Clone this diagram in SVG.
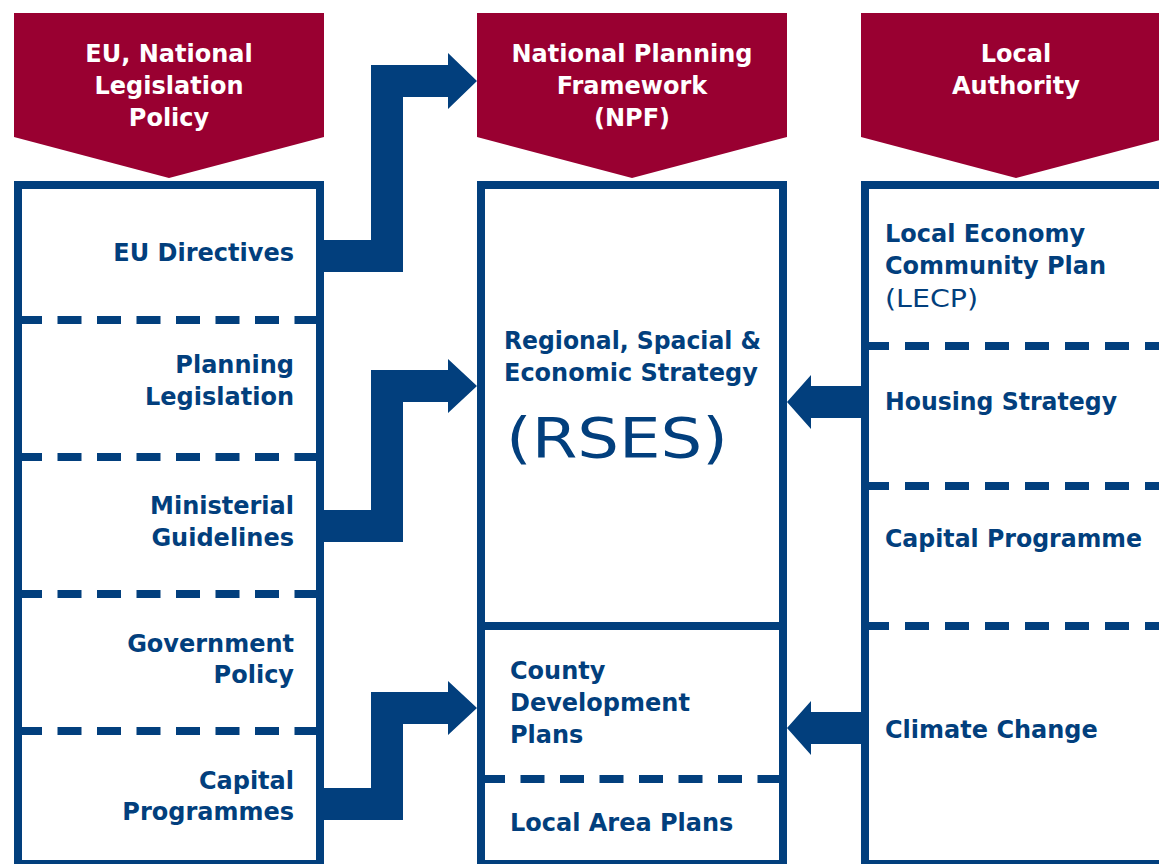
<svg xmlns="http://www.w3.org/2000/svg" width="1159" height="864" viewBox="0 0 1159 864">
<style>
.hdr{fill:#990031}
.box{fill:#ffffff;stroke:#023f7d;stroke-width:8}
.sep{stroke:#023f7d;stroke-width:8;fill:none}
.dash{stroke:#023f7d;stroke-width:8;fill:none;stroke-dasharray:24 15.5}
.arr{fill:#023f7d}
.ht{font-family:"DejaVu Sans",sans-serif;font-weight:700;font-size:24px;fill:#ffffff;text-anchor:middle}
.bt{font-family:"DejaVu Sans",sans-serif;font-weight:700;font-size:24px;fill:#023f7d}
.rt{font-family:"DejaVu Sans",sans-serif;font-weight:400;fill:#023f7d}
.r{text-anchor:end}
</style>
<rect width="1159" height="864" fill="#ffffff"/>
<g id="col-eu">
<polygon class="hdr" points="14,13 324,13 324,137 169,178 14,137"/>
<text class="ht" x="169" y="62">EU, National</text>
<text class="ht" x="169" y="94">Legislation</text>
<text class="ht" x="169" y="126">Policy</text>
<rect class="box" x="18" y="185" width="302" height="679"/>
<line class="dash" x1="18" y1="320" x2="320" y2="320"/>
<line class="dash" x1="18" y1="457" x2="320" y2="457"/>
<line class="dash" x1="18" y1="594" x2="320" y2="594"/>
<line class="dash" x1="18" y1="731" x2="320" y2="731"/>
</g>
<g id="eu-directives"><text class="bt r" x="294" y="261">EU Directives</text></g>
<g id="planning-legislation"><text class="bt r" x="294" y="373">Planning</text><text class="bt r" x="294" y="405">Legislation</text></g>
<g id="ministerial-guidelines"><text class="bt r" x="294" y="514">Ministerial</text><text class="bt r" x="294" y="546">Guidelines</text></g>
<g id="government-policy"><text class="bt r" x="294" y="652">Government</text><text class="bt r" x="294" y="683">Policy</text></g>
<g id="capital-programmes"><text class="bt r" x="294" y="789">Capital</text><text class="bt r" x="294" y="820">Programmes</text></g>

<g id="col-npf">
<polygon class="hdr" points="477,13 787,13 787,137 632,178 477,137"/>
<text class="ht" x="632" y="62">National Planning</text>
<text class="ht" x="632" y="94">Framework</text>
<text class="ht" x="632" y="126">(NPF)</text>
<rect class="box" x="481" y="185" width="302" height="679"/>
<line class="sep" x1="481" y1="626" x2="783" y2="626"/>
<line class="dash" x1="481" y1="779" x2="783" y2="779"/>
</g>
<g id="rses">
<text class="bt" x="504" y="349" textLength="257" lengthAdjust="spacingAndGlyphs">Regional, Spacial &amp;</text>
<text class="bt" x="504" y="381">Economic Strategy</text>
<text class="rt" x="506" y="457" font-size="56" textLength="222" lengthAdjust="spacingAndGlyphs">(RSES)</text>
</g>
<g id="county-development-plans">
<text class="bt" x="510" y="679">County</text>
<text class="bt" x="510" y="711">Development</text>
<text class="bt" x="510" y="743">Plans</text>
</g>
<g id="local-area-plans"><text class="bt" x="510" y="831">Local Area Plans</text></g>

<g id="col-la">
<polygon class="hdr" points="861,13 1171,13 1171,137 1016,178 861,137"/>
<text class="ht" x="1016" y="62">Local</text>
<text class="ht" x="1016" y="94">Authority</text>
<rect class="box" x="865" y="185" width="302" height="679"/>
<line class="dash" x1="865" y1="346" x2="1167" y2="346" style="stroke-dasharray:24 16"/>
<line class="dash" x1="865" y1="486" x2="1167" y2="486" style="stroke-dasharray:24 16"/>
<line class="dash" x1="865" y1="626" x2="1167" y2="626" style="stroke-dasharray:24 16"/>
</g>
<g id="lecp">
<text class="bt" x="885" y="242">Local Economy</text>
<text class="bt" x="885" y="274">Community Plan</text>
<text class="rt" x="885" y="307" font-size="24" textLength="93" lengthAdjust="spacingAndGlyphs">(LECP)</text>
</g>
<g id="housing-strategy"><text class="bt" x="885" y="410" textLength="232" lengthAdjust="spacingAndGlyphs">Housing Strategy</text></g>
<g id="capital-programme"><text class="bt" x="885" y="547" textLength="257" lengthAdjust="spacingAndGlyphs">Capital Programme</text></g>
<g id="climate-change"><text class="bt" x="885" y="738">Climate Change</text></g>

<g id="connectors">
<polygon class="arr" points="320,240 371,240 371,65 448,65 448,53 477,81 448,109 448,97 403,97 403,272 320,272"/>
<polygon class="arr" points="320,510 371,510 371,370 448,370 448,359 477,386 448,413 448,402 403,402 403,542 320,542"/>
<polygon class="arr" points="320,788 371,788 371,692 448,692 448,681 477,708 448,735 448,724 403,724 403,820 320,820"/>
<polygon class="arr" points="861,386 811,386 811,375 787,402 811,429 811,418 861,418"/>
<polygon class="arr" points="861,712 811,712 811,701 787,728 811,755 811,744 861,744"/>
</g>
</svg>
